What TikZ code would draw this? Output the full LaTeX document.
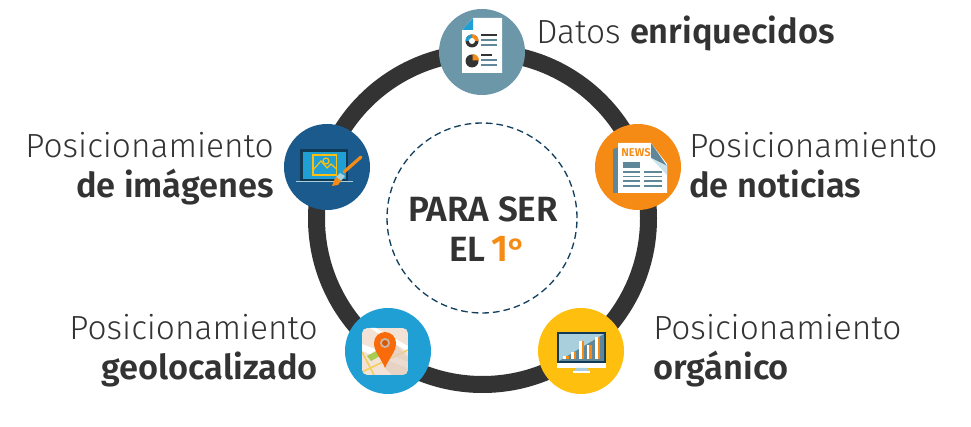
\documentclass[tikz,border=0pt]{standalone}
\usepackage{fontspec}
\setmainfont{Fira Sans Light}
\newfontfamily\boldf{Fira Sans SemiBold}
\newfontfamily\ordf{Poppins SemiBold}
\definecolor{ink}{HTML}{333333}
\definecolor{navy}{HTML}{14405F}
\definecolor{cTop}{HTML}{6C97A9}
\definecolor{cOrange}{HTML}{F58A14}
\definecolor{cBlue}{HTML}{1A5A8C}
\definecolor{cSky}{HTML}{209FD5}
\definecolor{cYellow}{HTML}{FFBF0F}
\definecolor{slate}{HTML}{5E8899}
\definecolor{deep}{HTML}{123A55}
\definecolor{paleb}{HTML}{A9CFDC}
\definecolor{cream}{HTML}{F3E2D6}
\definecolor{shadec}{HTML}{E3CDBD}
\definecolor{holec}{HTML}{C9B8AC}
\definecolor{pinc}{HTML}{F96A0A}
\definecolor{road}{HTML}{F2CF5A}
\definecolor{leaf}{HTML}{A9CB52}
\tikzset{
  x=0.75pt,y=-0.75pt,
  badge/.style={circle,minimum size=64.5pt,inner sep=0pt,fill=#1},
  lab/.style={font=\fontsize{25.1}{30.5}\selectfont,text=ink,inner sep=0pt},
  hubt/.style={font=\fontsize{26.3}{30}\selectfont\boldf,inner sep=0pt,text=#1},
  ln/.style={line width=1.4pt,draw=#1},
  nl/.style={line width=1pt,draw=slate},
  ic/.style={line width=0.9pt,draw=cYellow},
}
\newcommand{\bb}[1]{{\fontsize{25.8}{30.5}\selectfont\boldf #1}}
\begin{document}
\begin{tikzpicture}
\useasboundingbox (0,0) rectangle (971,427);
\fill[white] (0,0) rectangle (971,427);
\node[circle,draw=ink,line width=12.75pt,minimum size=249pt,inner sep=0pt] (ring) at (482.5,218.5) {};
\node[circle,draw=navy,line width=1pt,dash pattern=on 5pt off 3pt,minimum size=142.5pt,inner sep=0pt] (hub) at (482,218) {};
\node[hubt=ink,anchor=base] (t1) at (483,222) {PARA SER};
\node[hubt=ink,anchor=base east] (t2) at (486,262) {EL};
\node[hubt=cOrange,anchor=base west,font=\fontsize{28}{30}\selectfont\boldf] (t3) at (491,262) {1\raisebox{0pt}{\ordf\fontsize{24}{24}\selectfont º}};
\node[badge=cTop] (top) at (482,52) {};
\node[badge=cOrange] (news) at (638,167) {};
\node[badge=cBlue] (img) at (327,167) {};
\node[badge=cSky] (geo) at (388,351) {};
\node[badge=cYellow] (org) at (581,351) {};
% labels
\node[lab,anchor=base west] (l1) at (536,44) {Datos \bb{enriquecidos}};
\node[lab,anchor=base west] (l2a) at (689,158) {Posicionamiento};
\node[lab,anchor=base west] (l2b) at (689,198) {\bb{de noticias}};
\node[lab,anchor=base east] (l3a) at (274,158) {Posicionamiento};
\node[lab,anchor=base east] (l3b) at (274,198) {\bb{de imágenes}};
\node[lab,anchor=base east] (l4a) at (318,340) {Posicionamiento};
\node[lab,anchor=base east] (l4b) at (318,380) {\bb{geolocalizado}};
\node[lab,anchor=base west] (l5a) at (653,340) {Posicionamiento};
\node[lab,anchor=base west] (l5b) at (653,380) {\bb{orgánico}};
% document icon
\fill[white] (462,30) -- (473,18) -- (502,18) -- (502,73) -- (462,73) -- cycle;
\fill[cSky] (462,30) -- (473,18) -- (473,30) -- cycle;
\fill[ink] (472,41) circle[radius=6.5];
\fill[cOrange] (472,41) -- (472,34.5) arc[start angle=-90,end angle=0,radius=6.5] -- cycle;
\fill[cSky] (472,41) -- (465.5,41) arc[start angle=180,end angle=270,radius=6.5] -- cycle;
\fill[white] (472,41) circle[radius=3];
\fill[ink] (472,61) circle[radius=6.5];
\fill[cOrange] (472.5,60.5) -- (472.5,54) arc[start angle=-90,end angle=0,radius=6.5] -- cycle;
\draw[ln=ink] (481,35) -- (497,35);
\draw[ln=slate] (481,40) -- (497,40);
\draw[ln=slate] (481,45) -- (497,45);
\draw[ln=ink] (481,55) -- (492,55);
\draw[ln=slate] (481,60) -- (497,60);
\draw[ln=slate] (481,65) -- (497,65);
% newspaper icon
\fill[slate] (613,149) -- (620,147) -- (620,193) -- (613,193) -- cycle;
\fill[white] (618,143) -- (651,143) -- (667,164) -- (667,193) -- (618,193) -- cycle;
\fill[slate] (651,143) -- (667,166) -- (651,158) -- cycle;
\fill[paleb!60] (651,158) -- (667,166) -- (667,175) -- cycle;
\node[text=cOrange,font=\fontsize{8.5}{8.5}\selectfont\boldf,inner sep=0pt] (newsw) at (636,153) {NEWS};
\fill[slate] (623,162) rectangle (640,168);
\foreach \yy in {172,176.5,181,186}{
  \draw[nl] (623,\yy) -- (640,\yy);
  \draw[nl] (644,\yy) -- (662,\yy);
}
% laptop icon
\fill[deep] (300,149) rectangle (348,181);
\fill[cSky] (303,152) rectangle (346,179);
\draw[ic] (313,155) rectangle (336.5,175);
\draw[ic] (313,170) -- (321,161) -- (327,168) -- (331,164) -- (336.5,169);
\draw[ic] (326,161) circle[radius=3];
\draw[line width=1.1pt,paleb] (296,181.5) -- (353,181.5);
\draw[line width=2.4pt,cOrange,line cap=round] (344,172) -- (361,157);
\fill[paleb] (340,173) -- (345,176) -- (341,181) -- (336,177) -- cycle;
\fill[cOrange] (336,177) -- (341,181) -- (338,185) -- (332,186) .. controls (334,183) and (333,181) .. (336,177) -- cycle;
% map icon
\begin{scope}
\clip[rounded corners=4pt] (362,328) rectangle (408,375);
\fill[cream] (362,328) rectangle (408,375);
\fill[white] (362,344) -- (408,362) -- (408,368) -- (362,351) -- cycle;
\fill[white] (376,328) -- (408,346) -- (408,352) -- (370,328) -- cycle;
\fill[leaf] (367,356) -- (376,351) -- (380,356) -- (371,361) -- cycle;
\draw[line width=1.2pt,road] (362,372) -- (408,350);
\draw[line width=1.2pt,road] (362,352) -- (374,375);
\fill[shadec,opacity=0.7] (385,368) -- (396,345) -- (408,357) -- (408,375) -- (392,375) -- cycle;
\end{scope}
\fill[pinc] (385,368) .. controls (381,358) and (374,352) .. (374,343) arc[start angle=180,end angle=360,radius=11] .. controls (396,352) and (389,358) .. (385,368) -- cycle;
\fill[holec] (385,343) circle[radius=5];
\fill[pinc!85!black] (385,343) circle[radius=3];
% monitor icon
\fill[deep] (557,332) rectangle (606,363);
\fill[paleb] (559,334) rectangle (604,361);
\fill[slate] (559,361) -- (604,334) -- (604,361) -- cycle;
\fill[white] (557,363) rectangle (606,368);
\fill[paleb] (576,368) -- (587,368) -- (589,371) -- (574,371) -- cycle;
\fill[white] (573,371) rectangle (590,373);
\foreach \xa/\tp in {563.3/356,571/351.7,579/340.7,586.7/345,595/336.7}{
  \fill[white] (\xa,\tp) rectangle ++(2.7,359.3-\tp);
  \fill[cOrange] (\xa+2.7,\tp) rectangle ++(2.7,359.3-\tp);
}
\end{tikzpicture}
\end{document}
